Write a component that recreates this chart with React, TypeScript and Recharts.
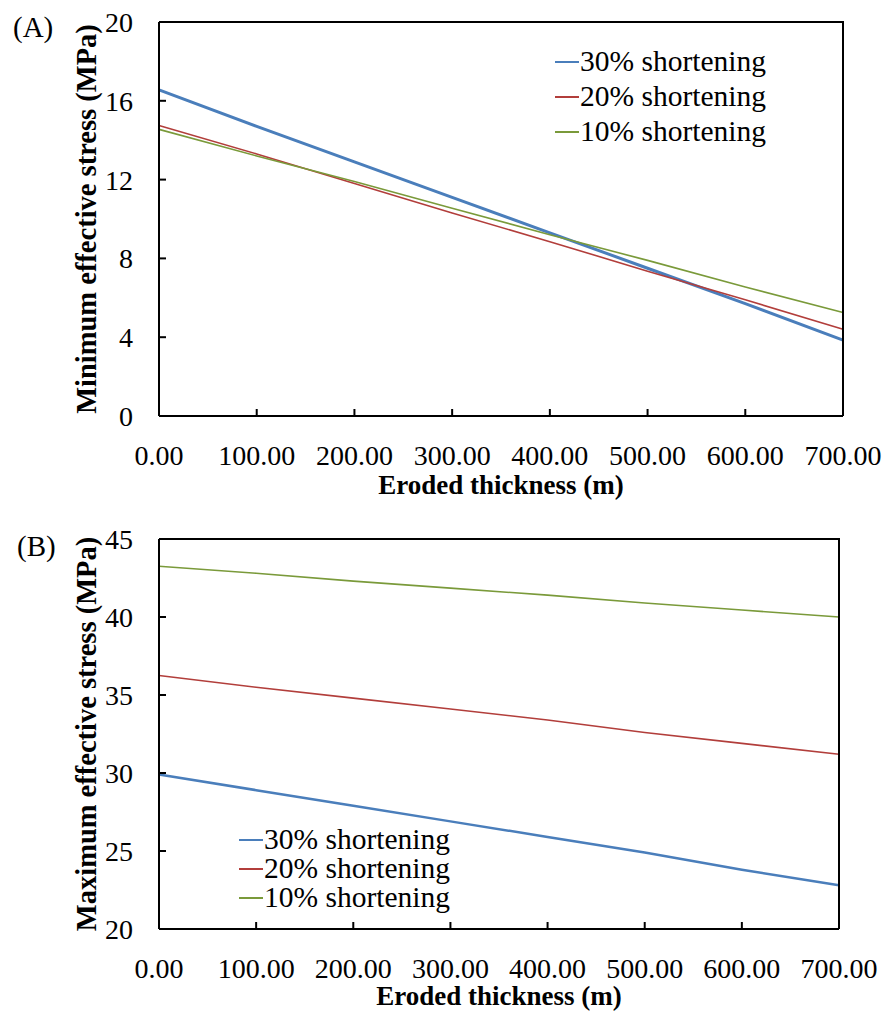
import React from 'react';
import { LineChart, Line, XAxis, YAxis, Legend } from 'recharts';

// eroded thickness (m)
const thickness = [0, 100, 200, 300, 400, 500, 600, 700];

// (A) minimum effective stress, MPa
const minStress30 = [16.55, 14.7, 12.9, 11.1, 9.3, 7.5, 5.7, 3.85];
const minStress20 = [14.75, 13.3, 11.8, 10.3, 8.85, 7.35, 5.9, 4.4];
const minStress10 = [14.55, 13.2, 11.9, 10.55, 9.2, 7.9, 6.55, 5.25];

// (B) maximum effective stress, MPa
const maxStress30 = [29.9, 28.9, 27.9, 26.9, 25.9, 24.9, 23.8, 22.8];
const maxStress20 = [36.25, 35.5, 34.8, 34.1, 33.4, 32.6, 31.9, 31.2];
const maxStress10 = [43.25, 42.8, 42.3, 41.85, 41.4, 40.9, 40.45, 40.0];

const xTicks = [0, 100, 200, 300, 400, 500, 600, 700];
const minTicks = [0, 4, 8, 12, 16, 20];
const maxTicks = [20, 25, 30, 35, 40, 45];

const seriesNames = ['30% shortening', '20% shortening', '10% shortening'];
const seriesColors = ['#4A7EBB', '#B23E3B', '#7A9A3A'];

const FONT = '"Liberation Serif", "Times New Roman", serif';
const axisStyle = { stroke: '#000', strokeWidth: 2 };
const Y_AXIS_W = 159;

const buildData = (a: number[], b: number[], c: number[]) =>
  thickness.map((t, i) => ({ t, s30: a[i], s20: b[i], s10: c[i] }));

const minData = buildData(minStress30, minStress20, minStress10);
const maxData = buildData(maxStress30, maxStress20, maxStress10);

// keep legend rows in series order (recharts sorts them otherwise)
const makeLegend = (rowH: number) => (props: any) => {
  const payload = props.payload || [];
  const rows = seriesNames
    .map((n) => payload.find((p: any) => p.value === n))
    .filter(Boolean);
  return (
    <div style={{ fontFamily: FONT, fontSize: 29.5, color: '#000' }}>
      {rows.map((p: any) => (
        <div key={p.value} style={{ display: 'flex', alignItems: 'center', height: rowH, lineHeight: 1, whiteSpace: 'nowrap' }}>
          <span style={{ display: 'inline-block', width: 24, height: 2, background: p.color, marginRight: 1 }} />
          <span>{p.value}</span>
        </div>
      ))}
    </div>
  );
};

const yTitle = (text: string) => (props: any) => {
  const vb = props.viewBox || { x: 0, y: 0, width: 159, height: 394 };
  const cx = 86;
  const cy = vb.y + vb.height / 2;
  return (
    <text x={cx} y={cy} transform={`rotate(-90, ${cx}, ${cy})`} textAnchor="middle" dominantBaseline="central"
      style={{ fontFamily: FONT, fontSize: 28.5, fontWeight: 'bold', fill: '#000' }}>
      {text}
    </text>
  );
};

const xTitle = (text: string, dy: number) => (props: any) => {
  const vb = props.viewBox || { x: 159, y: 416, width: 684, height: 89 };
  return (
    <text x={vb.x + vb.width / 2} y={vb.y + dy} textAnchor="middle" dominantBaseline="central"
      style={{ fontFamily: FONT, fontSize: 27, fontWeight: 'bold', fill: '#000' }}>
      {text}
    </text>
  );
};

type PanelProps = {
  data: any[];
  height: number;
  top: number;
  right: number;
  xAxisHeight: number;
  titleDy: number;
  yDomain: [number, number];
  yTicks: number[];
  title: string;
  tag: string;
  tagPos: { left: number; top: number };
  legendPos: { left: number; top: number };
  legendRow: number;
  thickBlue: number;
};

const Panel = (p: PanelProps) => {
  const keys = ['s30', 's20', 's10'];
  const widths = [p.thickBlue, 1.6, 1.6];
  const plotTop = p.top;
  const plotBottom = p.height - p.xAxisHeight;
  const plotRight = 887 - p.right;
  return (
    <div style={{ position: 'relative', width: 887, height: p.height }}>
      <div style={{ position: 'absolute', left: p.tagPos.left, top: p.tagPos.top, fontFamily: FONT, fontSize: 29, lineHeight: 1 }}>
        {p.tag}
      </div>
      <LineChart width={887} height={p.height} data={p.data} margin={{ top: p.top, right: p.right, bottom: 0, left: 0 }}>
        <XAxis dataKey="t" type="number" domain={[0, 700]} ticks={xTicks} interval={0}
          tickFormatter={(v: number) => v.toFixed(2)} height={p.xAxisHeight}
          axisLine={axisStyle} tickLine={axisStyle} tickSize={-7} tickMargin={36}
          tick={{ fontFamily: FONT, fontSize: 28, fill: '#000' }}
          label={xTitle('Eroded thickness (m)', p.titleDy)} />
        <YAxis type="number" domain={p.yDomain} ticks={p.yTicks} interval={0} width={Y_AXIS_W}
          axisLine={axisStyle} tickLine={axisStyle} tickSize={-7} tickMargin={33}
          tick={{ fontFamily: FONT, fontSize: 28, fill: '#000' }}
          label={yTitle(p.title)} />
        <Legend layout="vertical" align="center" verticalAlign="middle"
          wrapperStyle={{ left: p.legendPos.left, top: p.legendPos.top, width: 'auto', height: 'auto' }}
          content={makeLegend(p.legendRow)} />
        {keys.map((k, i) => (
          <Line key={k} type="linear" dataKey={k} name={seriesNames[i]}
            stroke={seriesColors[i]} strokeWidth={widths[i]} dot={false} isAnimationActive={false} />
        ))}
      </LineChart>
      {/* second chart over the first: mirrored top and right axes with inward ticks */}
      <div style={{ position: 'absolute', left: 0, top: 0, pointerEvents: 'none' }}>
        <LineChart width={887} height={p.height} data={p.data}
          margin={{ top: plotTop, right: p.right, bottom: p.xAxisHeight, left: Y_AXIS_W }}>
          <XAxis dataKey="t" type="number" orientation="top" domain={[0, 700]} ticks={xTicks} interval={0}
            mirror tick={false} axisLine={axisStyle} tickLine={axisStyle} tickSize={7} height={0} />
          <YAxis type="number" orientation="right" domain={p.yDomain} ticks={p.yTicks} interval={0}
            mirror tick={false} axisLine={axisStyle} tickLine={axisStyle} tickSize={7} width={0} />
          <Line type="linear" dataKey="s10" stroke="none" dot={false} activeDot={false} isAnimationActive={false} />
        </LineChart>
      </div>
      {/* plot frame, top and right edges */}
      <div style={{
        position: 'absolute', pointerEvents: 'none', boxSizing: 'border-box', zIndex: 2,
        left: Y_AXIS_W, top: plotTop - 1, width: plotRight - Y_AXIS_W + 1, height: plotBottom - plotTop + 1,
        borderTop: '2px solid #000', borderRight: '2px solid #000',
      }} />
    </div>
  );
};

export default function App() {
  return (
    <div style={{ position: 'absolute', left: 0, top: 0, width: 887, height: 1011, background: '#fff' }}>
      <Panel data={minData} height={505} top={22} right={44} xAxisHeight={89} titleDy={69}
        yDomain={[0, 20]} yTicks={minTicks} title="Minimum effective stress (MPa)"
        tag="(A)" tagPos={{ left: 13, top: 13 }} legendPos={{ left: 555, top: 44 }} legendRow={35} thickBlue={3} />
      <Panel data={maxData} height={506} top={34} right={48} xAxisHeight={82} titleDy={67}
        yDomain={[20, 45]} yTicks={maxTicks} title="Maximum effective stress (MPa)"
        tag="(B)" tagPos={{ left: 17, top: 27 }} legendPos={{ left: 239, top: 320 }} legendRow={29} thickBlue={2.5} />
    </div>
  );
}
